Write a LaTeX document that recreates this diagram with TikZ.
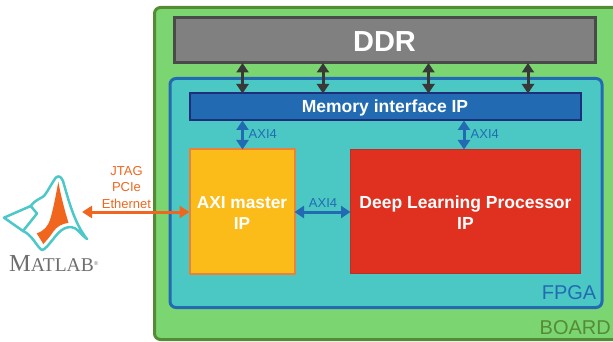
\documentclass[tikz,border=0pt]{standalone}
\usepackage{fontspec}
\setmainfont{Liberation Sans}
\newfontfamily\logofont{Liberation Serif}
\usetikzlibrary{arrows.meta,calc}
\definecolor{boardfill}{HTML}{7BD672}
\definecolor{boardline}{HTML}{558B35}
\definecolor{boardtext}{HTML}{558B35}
\definecolor{fpgafill}{HTML}{4CC8C4}
\definecolor{bluemain}{HTML}{226BB3}
\definecolor{memline}{HTML}{1D2F7A}
\definecolor{ddrfill}{HTML}{808080}
\definecolor{ddrline}{HTML}{4A4A4A}
\definecolor{darkarrow}{HTML}{383838}
\definecolor{orangeline}{HTML}{F0661E}
\definecolor{axifill}{HTML}{FBBC1A}
\definecolor{axiline}{HTML}{E8823A}
\definecolor{dlpfill}{HTML}{E03020}
\definecolor{dlpline}{HTML}{B8302A}
\definecolor{logoteal}{HTML}{4CC8C8}
\definecolor{logogray}{HTML}{6E6E6E}
\tikzset{
  x=1pt,y=-1pt,
  block/.style={draw,anchor=north west,inner sep=0pt,outer sep=0pt,align=center,text=white,font=\bfseries},
  memarrow/.style={{Triangle[length=9.5pt,width=12pt]}-{Triangle[length=9.5pt,width=12pt]},line width=3pt,draw=darkarrow},
  axiarrow/.style={{Triangle[length=9.5pt,width=12pt]}-{Triangle[length=9.5pt,width=12pt]},line width=3pt,draw=bluemain},
  ioarrow/.style={{Triangle[length=10pt,width=12pt]}-{Triangle[length=10pt,width=12pt]},line width=3pt,draw=orangeline},
  axilabel/.style={text=bluemain,font=\fontsize{13}{13}\selectfont,inner sep=0pt},
}
\begin{document}
\begin{tikzpicture}
\useasboundingbox (0,0) rectangle (613,342);
\clip (0,0) rectangle (613,342);
\node[block,fill=boardfill,draw=boardline,line width=3pt,rounded corners=6pt,minimum width=470pt,minimum height=332pt] (board) at (154.5,7.5) {};
\node[block,fill=ddrfill,draw=ddrline,line width=3pt,minimum width=421pt,minimum height=45pt,font=\bfseries\fontsize{29}{29}\selectfont] (ddr) at (174,18) {\rule{0pt}{23pt}DDR};
\node[block,fill=fpgafill,draw=bluemain,line width=3pt,rounded corners=6pt,minimum width=432pt,minimum height=229pt] (fpga) at (170,78.5) {};
\node[block,fill=bluemain,draw=memline,line width=2pt,minimum width=391pt,minimum height=27pt,font=\bfseries\fontsize{17.5}{17.5}\selectfont] (mem) at (189.5,93.5) {\rule{0pt}{15pt}Memory interface IP};
\node[block,fill=axifill,draw=axiline,line width=2pt,minimum width=105pt,minimum height=124pt,font=\bfseries\fontsize{17.3}{21}\selectfont] (axi) at (189.5,149.5) {\rule{0pt}{15pt}AXI master\\IP};
\node[block,fill=dlpfill,draw=dlpline,line width=1.5pt,minimum width=230pt,minimum height=124pt,font=\bfseries\fontsize{17.5}{21}\selectfont] (dlp) at (350.5,149.5) {\rule{0pt}{15pt}Deep Learning Processor\\IP};
\node[anchor=south east,text=bluemain,font=\fontsize{20}{20}\selectfont,inner sep=0pt] (fpgalabel) at (596.5,300) {FPGA};
\node[anchor=south east,text=boardtext,font=\fontsize{20}{20}\selectfont,inner sep=0pt] (boardlabel) at (611,334.5) {BOARD};
% columns for the connectors
\coordinate (c1) at (242.5,0);
\coordinate (c2) at (323,0);
\coordinate (c3) at (428.5,0);
\coordinate (c4) at (528,0);
\coordinate (c5) at (464,0);
\coordinate (r1) at (0,212);
\draw[memarrow] (ddr.south -| c1) -- (mem.north -| c1);
\draw[memarrow] (ddr.south -| c2) -- (mem.north -| c2);
\draw[memarrow] (ddr.south -| c3) -- (mem.north -| c3);
\draw[memarrow] (ddr.south -| c4) -- (mem.north -| c4);
\draw[axiarrow] (mem.south -| c1) -- (axi.north -| c1);
\draw[axiarrow] (mem.south -| c5) -- (dlp.north -| c5);
\draw[axiarrow] (axi.east |- r1) -- (dlp.west |- r1);
\node[axilabel,anchor=west] (l1) at (248.5,134.5) {AXI4};
\node[axilabel,anchor=west] (l2) at (470.5,134.5) {AXI4};
\node[axilabel,anchor=south] (l3) at (323,208) {AXI4};
% MATLAB logo
\coordinate (logoport) at (82,212);
\draw[ioarrow] (logoport) -- (axi.west |- r1);
\node[text=orangeline,font=\fontsize{13}{16.5}\selectfont,align=center,inner sep=0pt,anchor=south] (io) at (126.5,208.5) {JTAG\\PCIe\\Ethernet};
\fill[orangeline] (58.3,181.7) .. controls (60,192) and (65,212) .. (68.5,222.7) .. controls (62,224) and (57,226) .. (53,232) .. controls (49,238) and (46,241) .. (43.3,244) -- (36.7,233.3) .. controls (44,231) and (48,226) .. (50,220) .. controls (53,210) and (56,195) .. (58.3,181.7) -- cycle;
\draw[logoteal,line width=2.5pt,line join=round] (4,217.7) -- (30.7,206) .. controls (35,200) and (40,199) .. (44,196) .. controls (48,191) and (53,181) .. (56,177.5) .. controls (59,175) and (61,177) .. (63,181) .. controls (68,198) and (74,223) .. (87,239) .. controls (81,235) and (77,227) .. (71,227) .. controls (61,227) and (56,236) .. (50,243) .. controls (46,248) and (43,251) .. (41,249.5) .. controls (36,245) and (32,235) .. (23,231) -- cycle;
\draw[logoteal,line width=2.5pt,line join=round] (30.7,206) -- (37,213.5) -- (23,231);
\node[text=logogray,font=\logofont,inner sep=0pt,anchor=base west] (matlab) at (9,271.5) {\fontsize{24.5}{24.5}\selectfont M\fontsize{19.5}{19.5}\selectfont ATLAB\raisebox{6.5pt}{\fontsize{6}{6}\selectfont ®}};
\end{tikzpicture}
\end{document}
